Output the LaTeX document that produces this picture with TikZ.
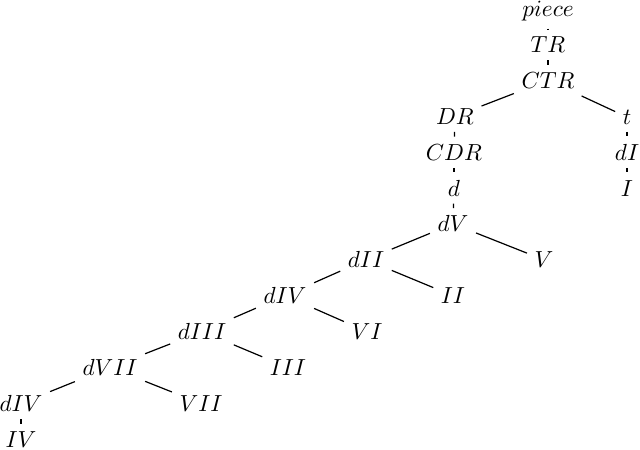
\documentclass[tikz,border=0pt]{standalone}
\begin{document}
\begin{tikzpicture}[x=0.43pt,y=-0.43pt,
  lbl/.style={anchor=base,inner sep=3.1pt},
  edge/.style={draw,line width=0.52pt}]
\useasboundingbox (0,0) rectangle (640,449);
% level baselines
\node[lbl] (piece) at (548,16.5) {$piece$};
\node[lbl] (TR) at (548,52.4) {$TR$};
\node[lbl] (CTR) at (548,88.3) {$CTR$};
\node[lbl] (DR) at (455,124.2) {$DR$};
\node[lbl] (t) at (627,124.2) {$t$};
\node[lbl] (CDR) at (454,160.1) {$CDR$};
\node[lbl] (dI) at (627,160.1) {$dI$};
\node[lbl] (d) at (454,196) {$d$};
\node[lbl] (I) at (627,196) {$I$};
\node[lbl] (dV) at (453,231.9) {$dV$};
\node[lbl] (dII) at (366,267.8) {$dII$};
\node[lbl] (V) at (544,267.8) {$V$};
\node[lbl] (dIVa) at (285,303.7) {$dIV$};
\node[lbl] (II) at (453,303.7) {$II$};
\node[lbl] (dIII) at (202,339.6) {$dIII$};
\node[lbl] (VI) at (367,339.6) {$VI$};
\node[lbl] (dVII) at (110,375.5) {$dVII$};
\node[lbl] (III) at (288,375.5) {$III$};
\node[lbl] (dIVb) at (21,411.4) {$dIV$};
\node[lbl] (VII) at (201,411.4) {$VII$};
\node[lbl] (IV) at (21,447.3) {$IV$};
\path[edge] (piece) -- (TR);
\path[edge] (TR) -- (CTR);
\path[edge] (CTR) -- (DR);
\path[edge] (CTR) -- (t);
\path[edge] (DR) -- (CDR);
\path[edge] (CDR) -- (d);
\path[edge] (t) -- (dI);
\path[edge] (dI) -- (I);
\path[edge] (d) -- (dV);
\path[edge] (dV) -- (dII);
\path[edge] (dV) -- (V);
\path[edge] (dII) -- (dIVa);
\path[edge] (dII) -- (II);
\path[edge] (dIVa) -- (dIII);
\path[edge] (dIVa) -- (VI);
\path[edge] (dIII) -- (dVII);
\path[edge] (dIII) -- (III);
\path[edge] (dVII) -- (dIVb);
\path[edge] (dVII) -- (VII);
\path[edge] (dIVb) -- (IV);
\end{tikzpicture}
\end{document}
